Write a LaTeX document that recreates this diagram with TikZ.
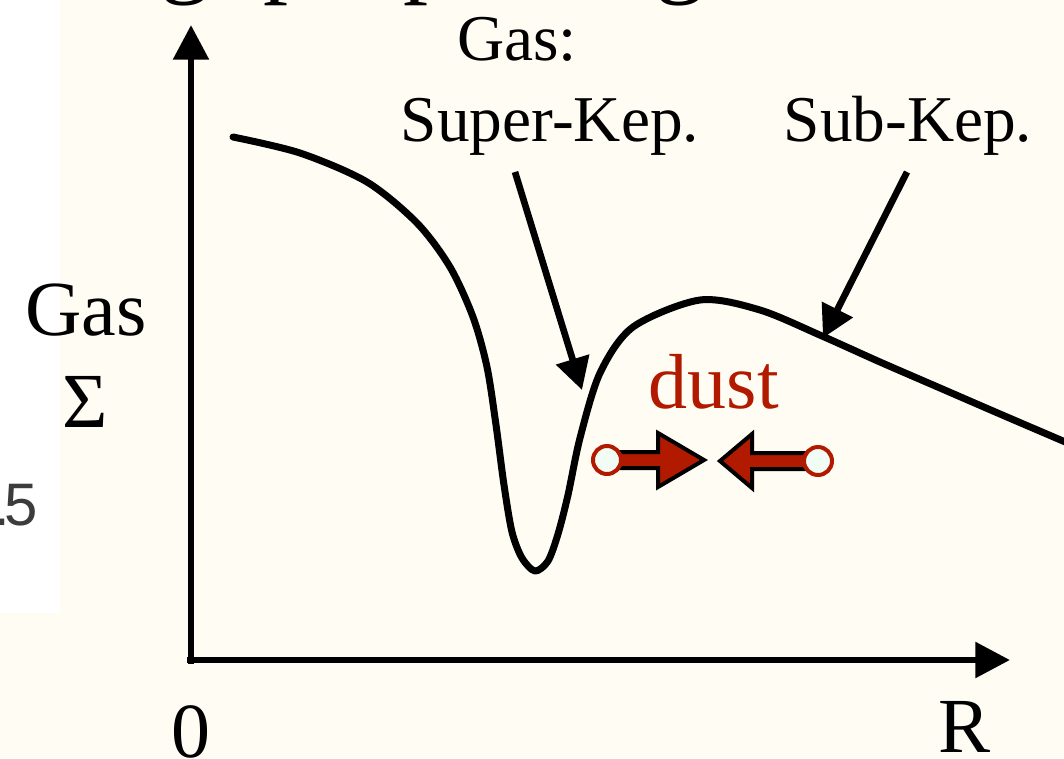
\documentclass[tikz,border=0pt]{standalone}
\usepackage{fontspec}
\setmainfont{Liberation Serif}
\newfontfamily\sansf{Liberation Sans}
\usetikzlibrary{arrows.meta}
\definecolor{bgcream}{RGB}{255,252,244}
\definecolor{dustred}{RGB}{178,26,0}
\definecolor{ringfill}{RGB}{240,252,244}
\definecolor{greytxt}{RGB}{60,60,60}
\begin{document}
\begin{tikzpicture}[x=0.75pt,y=-0.75pt,
  axis/.style={line width=5pt, -{Triangle[length=26pt,width=26pt]}},
  pointer/.style={line width=5pt, -{Triangle[length=24pt,width=25pt]}},
  biglbl/.style={font=\fontsize{58.5}{60}\selectfont, inner sep=0pt, anchor=base},
  midlbl/.style={font=\fontsize{49}{50}\selectfont, inner sep=0pt, anchor=base},
  titlefrag/.style={font=\fontsize{75}{75}\selectfont, inner sep=0pt, anchor=base},
  ring/.style={circle, draw=dustred, fill=ringfill, line width=3pt, minimum size=21pt, inner sep=0pt},
  blockarrow/.style={fill=dustred, draw=black, line width=3pt, line join=miter},
  curve/.style={line width=5.25pt, line join=round, line cap=round}
]
\useasboundingbox (0,0) rectangle (1064,758);
\fill[bgcream] (0,0) rectangle (1064,758);
\fill[white] (0,0) rectangle (60,613);

% fragments of a title cut off at the top
\node[titlefrag] (t1) at (185,-16) {g};
\node[titlefrag] (t2) at (288,-16) {p};
\node[titlefrag] (t3) at (428,-16) {p};
\node[titlefrag] (t4) at (680,-16) {g};

% cut-off tick label at the left
\node[font=\sansf\fontsize{45}{45}\selectfont, text=greytxt, anchor=base east, inner sep=0pt] (tick) at (38,525) {.\kern-4pt5};

% axes
\coordinate (origin) at (191,660);
\coordinate (ytip) at (191,25);
\coordinate (xtip) at (1010,660);
\draw[axis] (191,664) -- (ytip);
\draw[axis] (187,660) -- (xtip);

% axis labels
\node[biglbl] (gaslbl) at (86,335) {Gas};
\node[biglbl] (sigma) at (85,427) {Σ};
\node[biglbl] (zero) at (191,757) {0};
\node[biglbl] (rlbl) at (965,752) {R};

% surface density curve
\draw[curve] plot[smooth, tension=0.5] coordinates {
  (233,137) (300,153) (367,182) (417,223) (450,267) (473,317) (487,367)
  (496,425) (504,485) (512,532) (522,558) (535,571) (548,561) (558,534)
  (568,495) (580,438) (600,373) (633,327) (700,300) (760,310) (822,336)
  (880,362) (940,388) (1000,414) (1070,444)};

% annotations
\node[midlbl] (gascolon) at (517,60) {Gas:};
\node[midlbl] (superkep) at (550,141) {Super-Kep.};
\node[midlbl] (subkep) at (908,141) {Sub-Kep.};
\coordinate (superfrom) at (515,172);
\coordinate (superto) at (582,390);
\coordinate (subfrom) at (907,172);
\coordinate (subto) at (823,338);
\draw[pointer] (superfrom) -- (superto);
\draw[pointer] (subfrom) -- (subto);

% dust
\node[biglbl, text=dustred] (dust) at (714,408) {dust};
\coordinate (dlc) at (607,460);
\coordinate (drc) at (818,461);
\draw[blockarrow] (dlc) ++(0,-8) -- (658,452) -- (658,433) -- (704,460) -- (658,487) -- (658,468) -- (607,468) -- cycle;
\draw[blockarrow] (drc) ++(0,-8) -- (752,453) -- (752,434) -- (720,461) -- (752,488) -- (752,469) -- (818,469) -- cycle;
\node[ring] (dustleft) at (dlc) {};
\node[ring] (dustright) at (drc) {};
\end{tikzpicture}
\end{document}
